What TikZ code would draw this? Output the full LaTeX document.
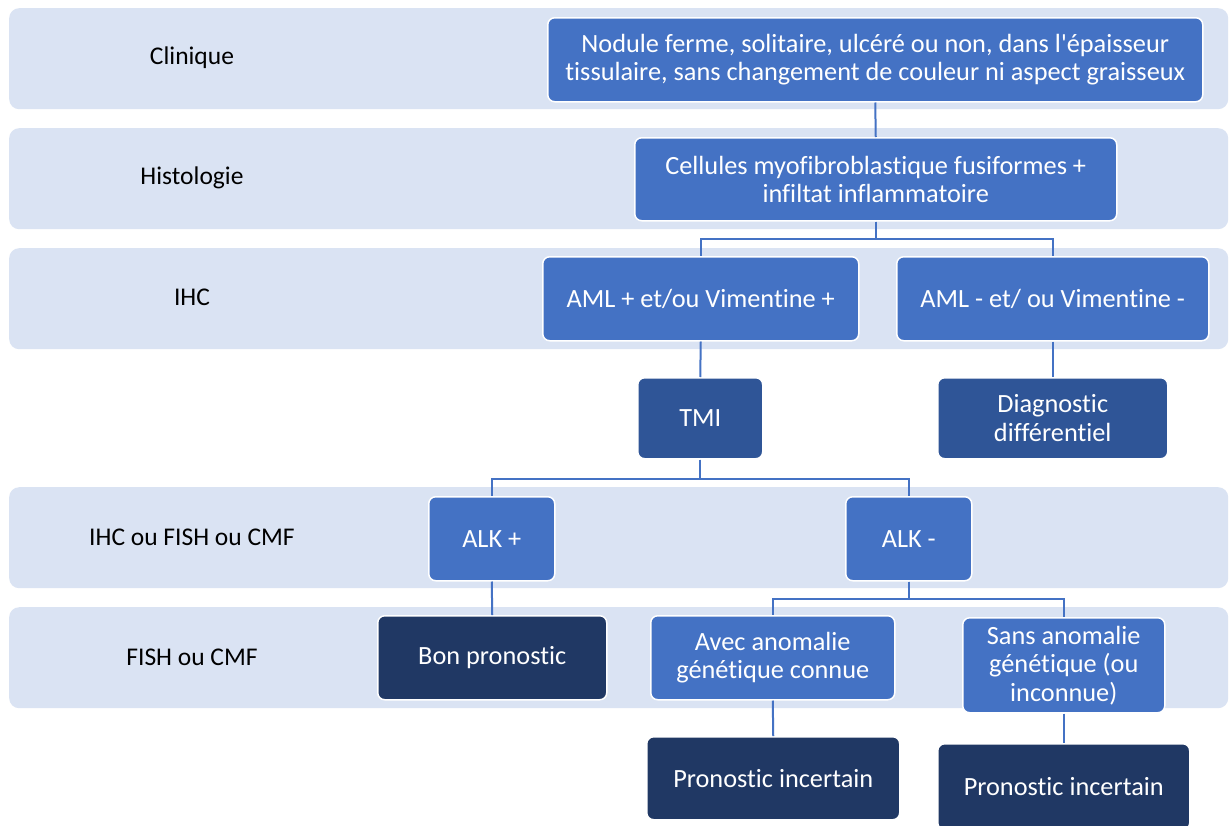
\documentclass[tikz,border=0pt]{standalone}
\usepackage{fontspec}
\newfontfamily\cfont{Carlito}[Ligatures={NoCommon,NoContextual,NoRare}, RawFeature={-liga;-clig;-calt;-dlig}]
\definecolor{band}{HTML}{DAE3F3}
\definecolor{midb}{HTML}{4472C4}
\definecolor{darkb}{HTML}{2F5597}
\definecolor{deepb}{HTML}{203864}
\begin{document}
\begin{tikzpicture}[x=1pt,y=-1pt,
  bandbox/.style={fill=band, rounded corners=10pt, anchor=north west, inner sep=0pt, minimum width=1219pt, minimum height=101pt},
  rowlabel/.style={font=\cfont\fontsize{25.5}{29}\selectfont, text=black},
  box/.style={draw=white, line width=1.5pt, rounded corners=7pt, anchor=north west, inner sep=2pt, align=center, text=white, font=\cfont\fontsize{26.3}{28.5}\selectfont},
  lvA/.style={box, fill=midb},
  lvB/.style={box, fill=darkb},
  lvC/.style={box, fill=deepb},
  link/.style={draw=midb, line width=2pt}]
\useasboundingbox (0,0) rectangle (1231,825);
\fill[white] (0,0) rectangle (1231,825);
% bands
\node[bandbox] (b1) at (9,8) {};
\node[bandbox] (b2) at (9,128) {};
\node[bandbox] (b3) at (9,248) {};
\node[bandbox] (b4) at (9,487) {};
\node[bandbox] (b5) at (9,607) {};
% row labels
\node[rowlabel] (l1) at (192,58) {Clinique};
\node[rowlabel] (l2) at (192,178) {Histologie};
\node[rowlabel] (l3) at (192,297) {IHC};
\node[rowlabel] (l4) at (192,537) {IHC ou FISH ou CMF};
\node[rowlabel] (l5) at (192,657) {FISH ou CMF};
% boxes
\node[lvA, minimum width=655pt, minimum height=84pt] (n1) at (547,17) {Nodule ferme, solitaire, ulcéré ou non, dans l'épaisseur\\tissulaire, sans changement de couleur ni aspect graisseux};
\node[lvA, minimum width=482pt, minimum height=83pt] (n2) at (634,137) {Cellules myofibroblastique fusiformes +\\infiltat inflammatoire};
\node[lvA, minimum width=316pt, minimum height=84pt] (n3) at (542,256) {AML + et/ou Vimentine +};
\node[lvA, minimum width=312pt, minimum height=84pt] (n4) at (896,256) {AML - et/ ou Vimentine -};
\node[lvB, minimum width=125pt, minimum height=81pt] (tmi) at (637,377) {TMI};
\node[lvB, minimum width=230pt, minimum height=81pt] (diag) at (937,377) {Diagnostic\\différentiel};
\node[lvA, minimum width=126pt, minimum height=84pt] (alkp) at (428,496) {ALK +};
\node[lvA, minimum width=126pt, minimum height=84pt] (alkm) at (845,496) {ALK -};
\node[lvC, minimum width=229pt, minimum height=84pt] (bon) at (377,615) {Bon pronostic};
\node[lvA, minimum width=244pt, minimum height=84pt] (avec) at (650,615) {Avec anomalie\\génétique connue};
\node[lvA, minimum width=202pt, minimum height=95pt] (sans) at (962,617) {Sans anomalie\\génétique (ou\\inconnue)};
\node[lvC, minimum width=253pt, minimum height=83pt] (pi1) at (646,736) {Pronostic incertain};
\node[lvC, minimum width=252pt, minimum height=86pt] (pi2) at (937,743) {Pronostic incertain};
% connectors
\draw[link] (n1.south) -- (n2.north);
\draw[link] (n2.south) -- ++(0,17) -| (n3.north);
\draw[link] (n2.south) -- ++(0,17) -| (n4.north);
\draw[link] (n3.south) -- (tmi.north);
\draw[link] (n4.south) -- (diag.north);
\draw[link] (tmi.south) -- ++(0,19) -| (alkp.north);
\draw[link] (tmi.south) -- ++(0,19) -| (alkm.north);
\draw[link] (alkp.south) -- (bon.north);
\draw[link] (alkm.south) -- ++(0,17) -| (avec.north);
\draw[link] (alkm.south) -- ++(0,17) -| (sans.north);
\draw[link] (avec.south) -- (pi1.north);
\draw[link] (sans.south) -- (pi2.north);
\end{tikzpicture}
\end{document}
